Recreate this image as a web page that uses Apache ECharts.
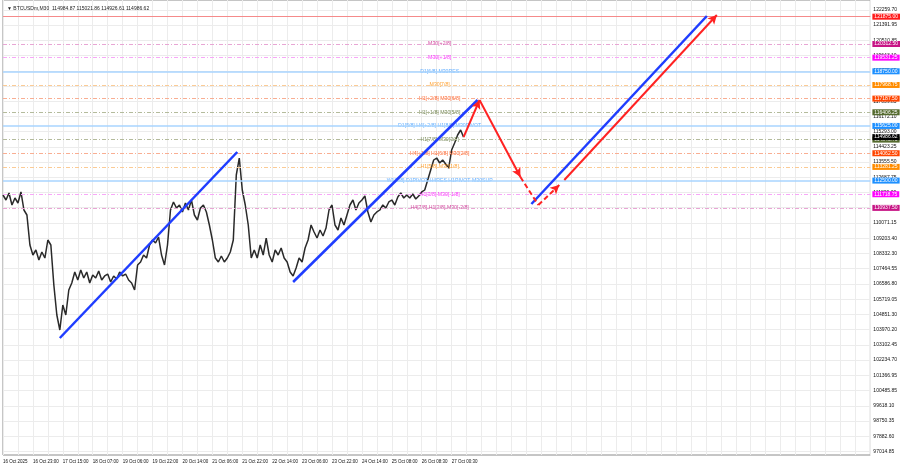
<!DOCTYPE html>
<html><head><meta charset="utf-8">
<script src="https://cdn.jsdelivr.net/npm/echarts@6/dist/echarts.min.js"></script>
<style>html,body{margin:0;padding:0;background:#fff}#c{width:900px;height:468px}</style>
</head><body><div id="c"></div>
<script>
// ---- data ----
const timeLabels = ['16 Oct 2025','16 Oct 23:00','17 Oct 15:00','18 Oct 07:00','19 Oct 06:00','19 Oct 22:00','20 Oct 14:00','21 Oct 06:00','21 Oct 22:00','22 Oct 14:00','23 Oct 06:00','23 Oct 22:00','24 Oct 14:00','25 Oct 08:00','26 Oct 08:30','27 Oct 00:30'];
const timeLabelBars = [0,10,20,30,40,50,60,70,80,90,100,110,120,130,140,150];
const priceTicks = [122259.70,121391.95,120510.85,119643.10,118775.35,117907.60,117039.85,116172.10,115293.00,114423.25,113555.50,112687.75,111820.00,110952.25,110071.15,109203.40,108332.30,107464.55,106586.80,105719.05,104851.30,103970.20,103102.45,102234.70,101366.95,100485.85,99618.10,98750.35,97882.60,97014.85];
const prices = [
111675,111389,111789,111103,111503,111217,111847,110817,110531,108815,
108243,108529,107957,108415,108071,109101,108815,106527,104811,103953,
105383,104811,106241,106641,107271,106813,107385,106927,107271,106641,
107099,106927,107328,106813,107042,107156,106699,107042,106870,107271,
107042,107156,106813,106641,106241,107671,107843,108243,108071,108815,
109101,108929,109273,108243,107671,108815,110817,111275,110931,111103,
110703,111217,110817,111389,110531,110245,110931,111103,110703,109959,
109101,108071,107843,108186,107843,108071,108415,109101,112819,113791,
111961,111103,109959,108071,108529,108071,108815,108243,109215,108243,
107843,108529,108243,108643,108071,107843,107271,107042,107499,108071,
107843,108643,109101,109959,109559,109215,109673,109330,109787,110817,
111103,109959,109673,110359,109959,110531,111103,111389,110817,111217,
111389,111618,110703,110131,110531,110703,110817,111103,110931,111275,
111389,111103,111561,111789,111503,111675,111503,111732,111446,111618,
111847,111961,112533,113105,113677,113791,113505,113677,113448,113219,
114249,114649,115107,115393,114987];
const lastPrice = 114986.62;
const topLevel = 121875.00;
const levelValues = [120312.50,119531.25,118750.00,117968.75,117187.50,116406.25,115625.00,114843.75,114062.50,113281.25,112500.00,111718.75,110937.50];
const levelNames = ['M30[+2/8]','M30[+1/8]','D1[6/8] M30RES','M30[7/8]','H1[+2/8] M30[6/8]','H1[+1/8] M30[5/8]','D1[5/8] H4[+2/8] H1[8/8] M30PIVOT','H1[7/8] M30[3/8]','H4[+1/8] H1[6/8] M30[2/8]','H1[5/8] M30[1/8]','W1[5/8] D1PIVOT H4RES H1PIVOT M30SUP','H1[3/8] M30[-1/8]','H4[7/8] H1[2/8] M30[-2/8]'];
const levelKinds = ['violet','magenta','blue','orange','orangered','olive','blue','olive','orangered','orange','blue','magenta','violet'];
// trend lines: [startBar, startPrice, endBar, endPrice]
const blueLines = [[19,103495,78.33,114135],[97,106699,158.67,117109],[176.67,111160,235.33,121914]];
const redSolidArrows = [[154,114987,159.33,117109],[159.33,117109,173,112705],[187.67,112533,238.67,121971]];
const redDashed = [[173,112705,179,111103]];
const redDashedArrows = [[179,111103,186,112247]];

// ---- styles ----
const boxColor = {violet:'#c71585',magenta:'#ff00ff',blue:'#1e90ff',orange:'#ff8c00',orangered:'#ff4500',olive:'#556b2f'};
const lineColor = {violet:'#e8a6d4',magenta:'#f7a8f7',blue:'#a8d4ff',orange:'#fbcb95',orangered:'#f9ae92',olive:'#b4bb9c'};
const textColor = {violet:'#c71585',magenta:'#ff00ff',blue:'#3d9bff',orange:'#ff8c00',orangered:'#ff4500',olive:'#556b2f'};
const FONT = 'Liberation Sans';

const levelMarks = [];
levelMarks.push({yAxis: topLevel, lineStyle:{color:'#f58a8a', type:'solid', width:1},
  label:{show:true, position:'end', distance:2, formatter: topLevel.toFixed(2), backgroundColor:'#ff1a1a', color:'#fff', fontSize:5, fontFamily:FONT, padding:[1,2,0,2]}});
levelValues.forEach((v,k)=>{
  const kind = levelKinds[k];
  levelMarks.push({yAxis: v, lineStyle:{color: lineColor[kind], type: kind==='blue' ? 'solid' : [4,2,1,2], width: kind==='blue' ? 1.5 : 1},
    label:{show:true, position:'end', distance:2, formatter: v.toFixed(2), backgroundColor: boxColor[kind], color:'#fff', fontSize:5, fontFamily:FONT, padding:[1,2,0,2]}});
});
levelMarks.push({yAxis: lastPrice, lineStyle:{width:0, color:'rgba(0,0,0,0)'},
  label:{show:true, position:'end', distance:2, formatter: lastPrice.toFixed(2), backgroundColor:'#000', color:'#fff', fontSize:5, fontFamily:FONT, padding:[1,2,0,2]}});

function seg(s, color, type, width, arrow){
  return [{coord:[s[0],s[1]], symbol:'none', lineStyle:{color, type, width}},
          {coord:[s[2],s[3]], symbol: arrow ? 'arrow' : 'none', symbolSize: arrow ? [7,9] : 0}];
}
const trendMarks = [];
blueLines.forEach(s=>trendMarks.push(seg(s,'#1f3dff','solid',2.5,false)));
redSolidArrows.forEach(s=>trendMarks.push(seg(s,'#ff2222','solid',2,true)));
redDashed.forEach(s=>trendMarks.push(seg(s,'#ff2222',[5,3],2,false)));
redDashedArrows.forEach(s=>trendMarks.push(seg(s,'#ff2222',[5,3],2,true)));

const chart = echarts.init(document.getElementById('c'), null, {renderer:'canvas'});
chart.setOption({
  animation:false,
  backgroundColor:'#fff',
  textStyle:{fontFamily:FONT},
  title:{text:'\u25BC BTCUSDm,M30  114984.87 115021.86 114926.61 114986.62', left:2, top:1,
    textStyle:{fontSize:5, fontWeight:'normal', color:'#222', fontFamily:FONT}},
  grid:{left:1, right:29, top:0, bottom:13, show:true, borderColor:'#8c8c8c', borderWidth:1, backgroundColor:'#fff'},
  xAxis:{type:'value', min:0, max:290, interval:5,
    axisLine:{show:false}, axisTick:{show:false},
    splitLine:{show:true, lineStyle:{color:'#ececec', width:1}},
    axisLabel:{customValues: timeLabelBars, formatter:(v)=>timeLabels[timeLabelBars.indexOf(v)],
      align:'left', fontSize:4.5, margin:4, color:'#111', fontFamily:FONT}},
  yAxis:{type:'value', position:'right', min:96803, max:122829,
    axisLine:{show:false},
    axisTick:{show:false, customValues: priceTicks},
    splitLine:{show:true, lineStyle:{color:'#ececec', width:1}},
    axisLabel:{customValues: priceTicks, formatter:(v)=>v.toFixed(2), fontSize:5, margin:3, color:'#111', fontFamily:FONT}},
  series:[
    {type:'line', name:'levels', data:[], silent:true,
      markLine:{silent:true, symbol:'none', animation:false, data: levelMarks}},
    {type:'line', name:'BTCUSDm', data: prices.map((p,i)=>[i,p]), showSymbol:false, silent:true,
      lineStyle:{color:'#2a2a2a', width:1.5}, z:3},
    {type:'scatter', name:'labels', silent:true, symbolSize:2, itemStyle:{color:'rgba(0,0,0,0)'}, z:4,
      label:{show:true, position:'inside', offset:[0,2], formatter:(p)=>p.name, fontSize:5.2, fontFamily:FONT,
        textBorderWidth:0, textBorderColor:'transparent', textShadowBlur:0},
      labelLayout:{hideOverlap:false},
      data: levelValues.map((v,k)=>({value:[146,v], name: levelNames[k],
        label:{color: textColor[levelKinds[k]]}}))},
    {type:'line', name:'trend', data:[], silent:true, z:5,
      markLine:{silent:true, animation:false, label:{show:false}, data: trendMarks}}
  ]
});
</script></body></html>
